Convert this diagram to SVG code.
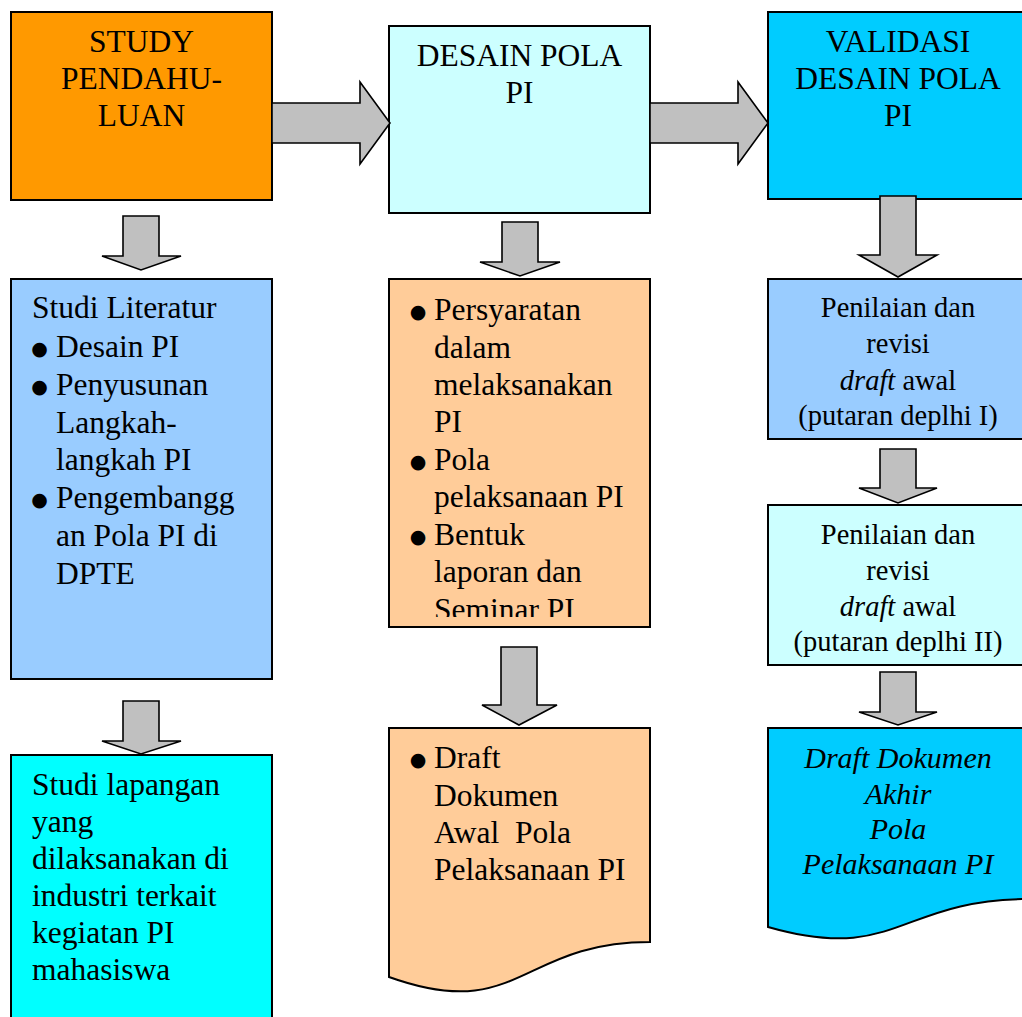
<svg xmlns="http://www.w3.org/2000/svg" width="1022" height="1017" viewBox="0 0 1022 1017">
<style>
.box{stroke:#000;stroke-width:2}
.arr{fill:#C0C0C0;stroke:#000;stroke-width:1.6;stroke-linejoin:miter}
text{font-family:"Liberation Serif","Times New Roman",serif;fill:#000}
.t31{font-size:31.5px}
.c{text-anchor:middle}
.t28{font-size:28.5px}
.it{font-style:italic}
.pre{white-space:pre}
.bul{font-family:"DejaVu Sans",sans-serif;font-size:19px;text-anchor:middle}
</style>
<defs>
<clipPath id="clipB"><rect x="389" y="279" width="261" height="338"/></clipPath>
</defs>
<rect width="1022" height="1017" fill="#fff"/>

<g id="n-study">
<rect class="box" x="11" y="12" width="261" height="188" fill="#FF9900"/>
<text class="t31 c" x="141.5" y="52">STUDY</text>
<text class="t31 c" x="141.5" y="89">PENDAHU-</text>
<text class="t31 c" x="141.5" y="126">LUAN</text>
</g>

<g id="n-desain">
<rect class="box" x="389" y="26" width="261" height="187" fill="#CCFFFF"/>
<text class="t31 c" x="519.5" y="66">DESAIN POLA</text>
<text class="t31 c" x="519.5" y="103">PI</text>
</g>

<g id="n-validasi">
<rect class="box" x="768" y="12" width="262" height="187" fill="#00CCFF"/>
<text class="t31 c" x="898" y="52">VALIDASI</text>
<text class="t31 c" x="898" y="89">DESAIN POLA</text>
<text class="t31 c" x="898" y="126">PI</text>
</g>

<g id="n-literatur">
<rect class="box" x="11" y="279" width="261" height="400" fill="#99CCFF"/>
<text class="t31" x="32" y="318">Studi Literatur</text>
<text class="bul" x="39.5" y="355">●</text>
<text class="t31" x="56" y="357">Desain PI</text>
<text class="bul" x="39.5" y="393">●</text>
<text class="t31" x="56" y="395">Penyusunan</text>
<text class="t31" x="56" y="433">Langkah-</text>
<text class="t31" x="56" y="470">langkah PI</text>
<text class="bul" x="39.5" y="506">●</text>
<text class="t31" x="56" y="508">Pengembangg</text>
<text class="t31" x="56" y="546">an Pola PI di</text>
<text class="t31" x="56" y="584">DPTE</text>
</g>

<g id="n-lapangan">
<rect class="box" x="11" y="755" width="261" height="280" fill="#00FFFF"/>
<text class="t31" x="32" y="795">Studi lapangan</text>
<text class="t31" x="32" y="832">yang</text>
<text class="t31" x="32" y="869">dilaksanakan di</text>
<text class="t31" x="32" y="906">industri terkait</text>
<text class="t31" x="32" y="943">kegiatan PI</text>
<text class="t31" x="32" y="980">mahasiswa</text>
</g>

<g id="n-persyaratan">
<rect class="box" x="389" y="279" width="261" height="348" fill="#FFCC99"/>
<g clip-path="url(#clipB)">
<text class="bul" x="418" y="318">●</text>
<text class="t31" x="434" y="320">Persyaratan</text>
<text class="t31" x="434" y="357.5">dalam</text>
<text class="t31" x="434" y="395">melaksanakan</text>
<text class="t31" x="434" y="432">PI</text>
<text class="bul" x="418" y="468">●</text>
<text class="t31" x="434" y="470">Pola</text>
<text class="t31" x="434" y="507">pelaksanaan PI</text>
<text class="bul" x="418" y="543">●</text>
<text class="t31" x="434" y="545">Bentuk</text>
<text class="t31" x="434" y="582">laporan dan</text>
<text class="t31" x="434" y="620">Seminar PI</text>
</g>
</g>

<g id="n-draft-awal">
<path class="box" d="M389,728 H650 V942 C519.5,942 519.5,1023.7 389,977 Z" fill="#FFCC99"/>
<text class="bul" x="418" y="766">●</text>
<text class="t31" x="434" y="768">Draft</text>
<text class="t31" x="434" y="806">Dokumen</text>
<text class="t31 pre" x="434" y="843">Awal  Pola</text>
<text class="t31" x="434" y="880">Pelaksanaan PI</text>
</g>

<g id="n-penilaian1">
<rect class="box" x="768" y="279" width="262" height="160" fill="#99CCFF"/>
<text class="t28 c" x="898" y="317">Penilaian dan</text>
<text class="t28 c" x="898" y="353">revisi</text>
<text class="t28 c" x="898" y="390"><tspan class="it">draft</tspan> awal</text>
<text class="t28 c" x="898" y="425">(putaran deplhi I)</text>
</g>

<g id="n-penilaian2">
<rect class="box" x="768" y="505" width="262" height="160" fill="#CCFFFF"/>
<text class="t28 c" x="898" y="544">Penilaian dan</text>
<text class="t28 c" x="898" y="580">revisi</text>
<text class="t28 c" x="898" y="616"><tspan class="it">draft</tspan> awal</text>
<text class="t28 c" x="898" y="651">(putaran deplhi II)</text>
</g>

<g id="n-draft-akhir">
<path class="box" d="M768,728 H1030 V899 C898,899 898,964 768,927 Z" fill="#00CCFF"/>
<text class="c it" style="font-size:30px" x="898" y="768">Draft Dokumen</text>
<text class="c it" style="font-size:30px" x="898" y="804">Akhir</text>
<text class="c it" style="font-size:30px" x="898" y="839">Pola</text>
<text class="c it" style="font-size:30px" x="898" y="874">Pelaksanaan PI</text>
</g>

<g id="connectors">
<path class="arr" d="M272,103 H360 V82 L390,123 L360,164 V143 H272 Z"/>
<path class="arr" d="M650,103 H738 V82 L768,123 L738,164 V143 H650 Z"/>
<path class="arr" d="M123,216 V256 H102 L141,270 L181,256 H159 V216 Z"/>
<path class="arr" d="M123,701 V741 H102 L141,754 L181,741 H159 V701 Z"/>
<path class="arr" d="M502,222 V262 H480 L520,276 L560,262 H538 V222 Z"/>
<path class="arr" d="M501,647 V705 H482 L519,725 L557,705 H537 V647 Z"/>
<path class="arr" d="M880,196 V255 H859 L898,277 L937,255 H916 V196 Z"/>
<path class="arr" d="M880,449 V488 H859 L898,503 L937,488 H916 V449 Z"/>
<path class="arr" d="M880,672 V712 H859 L898,725 L937,712 H916 V672 Z"/>
</g>
</svg>
